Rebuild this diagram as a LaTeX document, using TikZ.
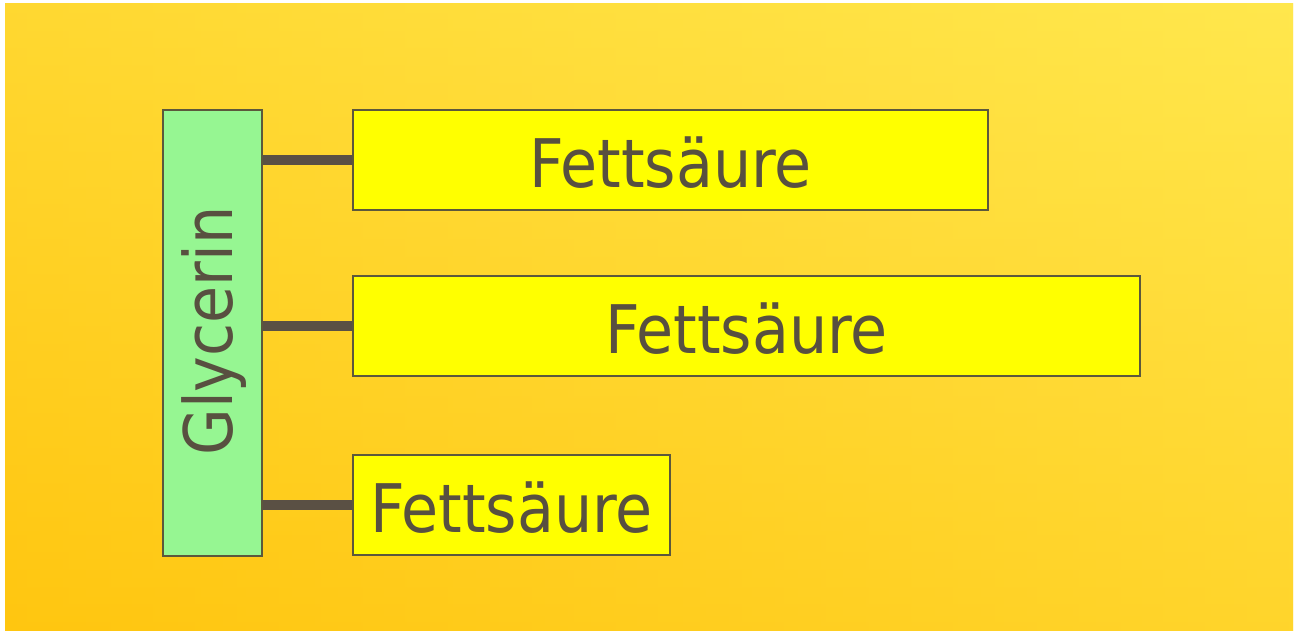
\documentclass[tikz,border=0pt]{standalone}
\usepackage{fontspec}
\setmainfont{DejaVu Sans Condensed}
\definecolor{bgA}{RGB}{255,198,16}
\definecolor{bgB}{RGB}{255,234,82}
\definecolor{edge}{RGB}{92,88,60}
\definecolor{link}{RGB}{90,80,68}
\definecolor{txt}{RGB}{88,80,64}
\definecolor{glyc}{RGB}{150,246,146}
\definecolor{fat}{RGB}{255,255,0}
\tikzset{
  fatbox/.style={draw=edge, line width=1.3pt, fill=fat, minimum height=100pt, inner sep=0pt},
  glybox/.style={draw=edge, line width=1.3pt, fill=glyc, minimum width=99pt, minimum height=446pt, inner sep=0pt},
  label/.style={text=txt, inner sep=0pt, font=\fontsize{67}{67}\selectfont},
  linkline/.style={draw=link, line width=10pt}
}
\begin{document}
\begin{tikzpicture}[x=1pt,y=1pt]
\useasboundingbox (0,0) rectangle (1297,634);
\fill[white] (0,0) rectangle (1297,634);
\shade[left color=bgA, right color=bgB!85!bgA] (5,4) rectangle (1293,630);
\shade[top color=bgB, bottom color=bgA, opacity=0.5] (5,4) rectangle (1293,630);
% Glycerin
\node[glybox] (g) at (212.5,301) {};
\node[label, rotate=90] (gt) at (214,303) {Glycerin};
% Fettsaeure boxes
\node[fatbox, minimum width=635pt] (f1) at (670.5,474) {};
\node[label] (t1) at (670.5,471) {Fettsäure};
\node[fatbox, minimum width=787pt] (f2) at (746.5,308) {};
\node[label] (t2) at (746.5,305) {Fettsäure};
\node[fatbox, minimum width=317pt] (f3) at (511.5,129) {};
\node[label] (t3) at (511.5,126) {Fettsäure};
% connectors
\draw[linkline] (g.east |- f1.west) -- (f1.west);
\draw[linkline] (g.east |- f2.west) -- (f2.west);
\draw[linkline] (g.east |- f3.west) -- (f3.west);
\end{tikzpicture}
\end{document}
